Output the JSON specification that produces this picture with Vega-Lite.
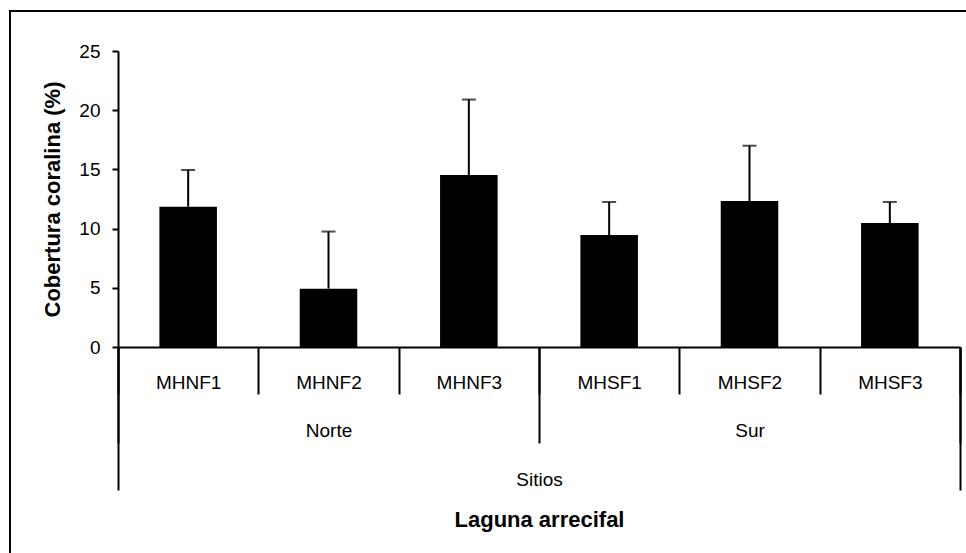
{
  "$schema": "https://vega.github.io/schema/vega-lite/v6.json",
  "width": 956,
  "height": 542,
  "autosize": {"type": "none"},
  "padding": {"left": 10, "top": 11, "right": 0, "bottom": 0},
  "background": "white",
  "data": {
    "values": [
      {"site": "MHNF1", "group": "Norte", "nivel": "Sitios", "value": 11.85, "upper": 14.95},
      {"site": "MHNF2", "group": "Norte", "nivel": "Sitios", "value": 4.93, "upper": 9.75},
      {"site": "MHNF3", "group": "Norte", "nivel": "Sitios", "value": 14.53, "upper": 20.9},
      {"site": "MHSF1", "group": "Sur", "nivel": "Sitios", "value": 9.46, "upper": 12.25},
      {"site": "MHSF2", "group": "Sur", "nivel": "Sitios", "value": 12.33, "upper": 17.0},
      {"site": "MHSF3", "group": "Sur", "nivel": "Sitios", "value": 10.47, "upper": 12.25}
    ]
  },
  "layer": [
    {
      "encoding": {
        "x": {
          "field": "site", "type": "nominal", "sort": null,
          "scale": {"range": [108, 950], "paddingInner": 0, "paddingOuter": 0},
          "axis": {"orient": "bottom", "offset": -206, "tickSize": 47, "tickBand": "extent", "labelPadding": -21, "labelAngle": 0, "title": null, "domain": true}
        }
      },
      "layer": [
        {
          "mark": {"type": "bar", "color": "black", "width": {"band": 0.41}},
          "encoding": {
            "y": {"field": "value", "type": "quantitative", "title": "Cobertura coralina (%)",
                  "scale": {"domain": [0, 25], "range": [336, 40], "nice": false, "zero": true},
                  "axis": {"values": [0, 5, 10, 15, 20, 25], "offset": -108, "tickSize": 6, "labelPadding": 12, "titlePadding": 14}}
          }
        },
        {
          "mark": {"type": "rule", "color": "black", "strokeWidth": 2},
          "encoding": {
            "y": {"field": "value", "type": "quantitative", "title": "Cobertura coralina (%)"},
            "y2": {"field": "upper"}
          }
        },
        {
          "mark": {"type": "tick", "color": "black", "size": 14, "thickness": 2},
          "encoding": {
            "y": {"field": "upper", "type": "quantitative", "title": "Cobertura coralina (%)"}
          }
        }
      ]
    },
    {
      "mark": {"type": "tick", "opacity": 0},
      "encoding": {
        "x": {
          "field": "group", "type": "nominal", "sort": null,
          "scale": {"range": [108, 950], "paddingInner": 0, "paddingOuter": 0},
          "axis": {"orient": "bottom", "offset": -206, "tickSize": 96, "tickBand": "extent", "labelPadding": -22, "labelAngle": 0, "title": null, "domain": false}
        },
        "y": {"field": "value", "type": "quantitative", "title": "Cobertura coralina (%)"}
      }
    },
    {
      "mark": {"type": "tick", "opacity": 0},
      "encoding": {
        "x": {
          "field": "nivel", "type": "nominal", "sort": null,
          "scale": {"range": [108, 950], "paddingInner": 0, "paddingOuter": 0},
          "axis": {"orient": "bottom", "offset": -206, "tickSize": 143, "tickBand": "extent", "labelPadding": -20, "labelAngle": 0, "title": "Laguna arrecifal", "titlePadding": 18, "domain": false}
        },
        "y": {"field": "value", "type": "quantitative", "title": "Cobertura coralina (%)"}
      }
    }
  ],
  "resolve": {"scale": {"x": "independent"}, "axis": {"x": "independent"}},
  "config": {
    "view": {"stroke": "black", "strokeWidth": 2, "strokeDash": [956, 1498, 600]},
    "axis": {
      "labelFont": "Liberation Sans", "labelFontSize": 19, "labelColor": "black",
      "titleFont": "Liberation Sans", "titleFontSize": 22, "titleFontWeight": "bold", "titleColor": "black",
      "domainColor": "black", "domainWidth": 2, "tickColor": "black", "tickWidth": 2, "grid": false
    }
  }
}
